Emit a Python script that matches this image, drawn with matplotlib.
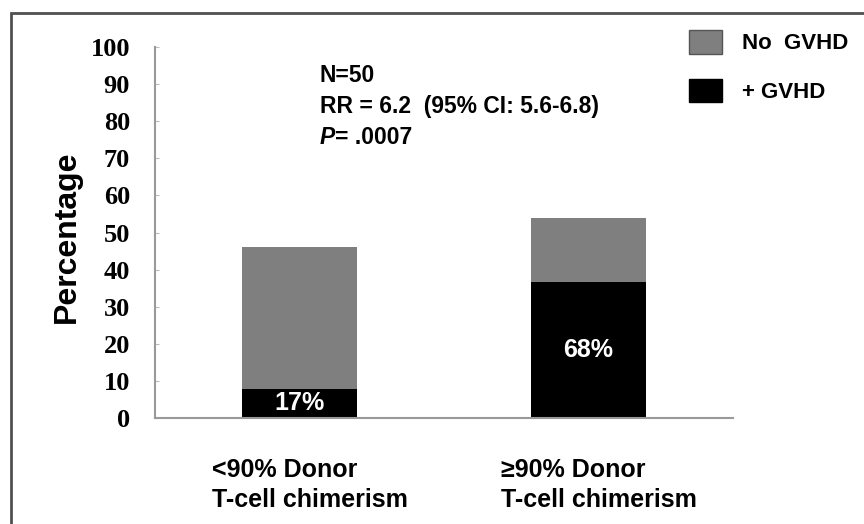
import matplotlib
matplotlib.use("Agg")
import matplotlib.pyplot as plt
from matplotlib.patches import Patch, Rectangle
from matplotlib.transforms import ScaledTranslation
import numpy as np

# groups by donor T-cell chimerism
categories = ["<90% Donor\nT-cell chimerism", "\u226590% Donor\nT-cell chimerism"]
group_share = [46, 54]          # % of all patients in each group
gvhd_pct = [17, 68]             # % with GVHD inside each group
gvhd_labels = ["17%", "68%"]
y_ticks = [0, 10, 20, 30, 40, 50, 60, 70, 80, 90, 100]

SANS = ["Liberation Sans", "DejaVu Sans"]
SERIF = ["Liberation Serif", "DejaVu Serif"]
GRAY = "#7f7f7f"

gvhd = [t * p / 100 for t, p in zip(group_share, gvhd_pct)]
no_gvhd = [t - g for t, g in zip(group_share, gvhd)]

fig = plt.figure(figsize=(8.64, 5.24), dpi=100)
ax = fig.add_axes([155 / 864, 1 - 418 / 524, 578 / 864, 371 / 524])

x = np.arange(len(categories))
ax.bar(x, gvhd, width=0.4, color="black", zorder=2)
ax.bar(x, no_gvhd, width=0.4, bottom=gvhd, color=GRAY, zorder=2)

for xi, g, lab in zip(x, gvhd, gvhd_labels):
    ax.text(xi, g / 2, lab, ha="center", va="center", color="white",
            fontsize=18, fontweight="bold", family=SANS, zorder=3)

ax.set_xlim(-0.5, 1.5)
ax.set_ylim(0, 100)
ax.set_yticks(y_ticks)
ax.set_yticklabels([str(v) for v in y_ticks], family=SERIF,
                   fontweight="bold", fontsize=19)
ax.set_xticks(x)
ax.set_xticklabels(categories, family=SANS, fontweight="bold",
                   fontsize=18, multialignment="left", linespacing=1.3)
ax.tick_params(axis="x", length=0, pad=29)
ax.tick_params(axis="y", direction="in", length=3, color="#bbbbbb", pad=18)

# category labels sit a little right of the bar centres
shift = ScaledTranslation(10 / 100, 0, fig.dpi_scale_trans)
for lbl in ax.get_xticklabels():
    lbl.set_transform(lbl.get_transform() + shift)

for side in ("top", "right"):
    ax.spines[side].set_visible(False)
for side in ("left", "bottom"):
    ax.spines[side].set_color("#999999")
    ax.spines[side].set_linewidth(1.5)

ax.set_ylabel("Percentage", family=SANS, fontweight="bold", fontsize=23)
ax.yaxis.set_label_coords(-0.126, 0.488)

# statistics block
stat_kw = dict(family=SANS, fontweight="bold", fontsize=16.5,
               transform=ax.transAxes, ha="left", va="center")
ax.text(0.285, (418 - 75) / 371, "N=50", **stat_kw)
ax.text(0.285, (418 - 106) / 371, "RR = 6.2  (95% CI: 5.6-6.8)", **stat_kw)
p_txt = ax.text(0.285, (418 - 137) / 371, "P", style="italic", **stat_kw)
ax.annotate("= .0007", xy=(1, 0.5), xycoords=p_txt, ha="left", va="center",
            family=SANS, fontweight="bold", fontsize=16.5)

handles = [Patch(facecolor=GRAY, edgecolor="#555555", label="No  GVHD"),
           Patch(facecolor="black", edgecolor="black", label="+ GVHD")]
fig.legend(handles=handles, loc="upper left",
           bbox_to_anchor=(689 / 864, 1 - 30 / 524), frameon=False,
           prop={"family": SANS, "weight": "bold", "size": 16},
           handlelength=1.5, handleheight=1.25, handletextpad=0.9,
           labelspacing=1.1, borderpad=0, borderaxespad=0)

# outer frame
fig.add_artist(Rectangle((11 / 864, -0.1), 1.2, 1.1 - 13 / 524,
                         transform=fig.transFigure, fill=False,
                         edgecolor="#505050", linewidth=2, clip_on=False))

fig.savefig("out.png", dpi=100, facecolor="white")
